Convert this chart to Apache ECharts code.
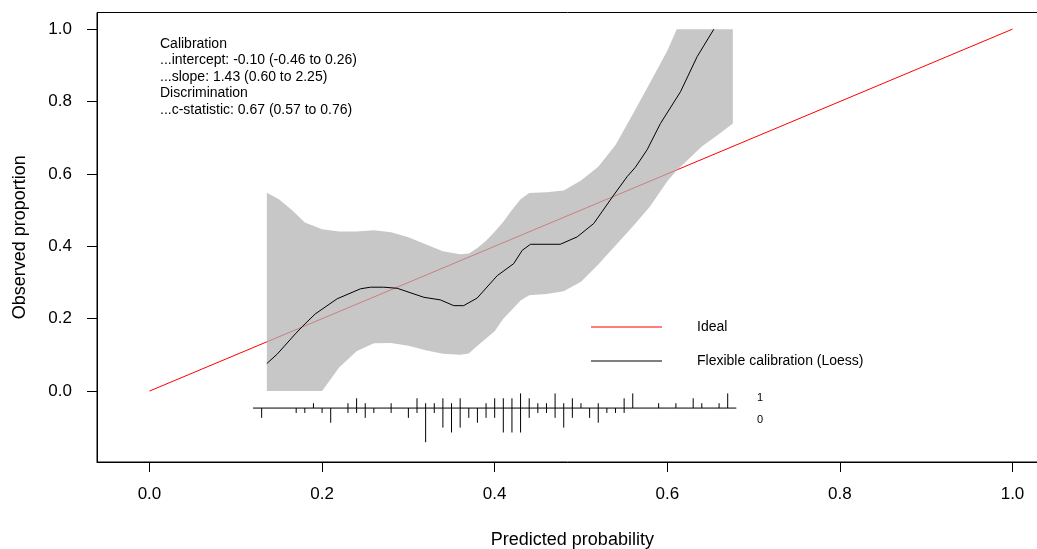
<!DOCTYPE html>
<html>
<head>
<meta charset="utf-8">
<script src="https://cdn.jsdelivr.net/npm/echarts@6/dist/echarts.min.js"></script>
<style>
html,body{margin:0;padding:0;background:#fff;}
#chart{width:1037px;height:549px;}
</style>
</head>
<body>
<div id="chart"></div>
<script>
// ---------- data ----------
const xTicks = [0, 0.2, 0.4, 0.6, 0.8, 1.0];
const yTicks = [0, 0.2, 0.4, 0.6, 0.8, 1.0];

const idealX = [0, 1];
const idealY = [0, 1];

const loessX = [0.136, 0.148, 0.169, 0.177, 0.192, 0.2175, 0.2445, 0.256, 0.2715, 0.287, 0.318, 0.337, 0.3526, 0.364, 0.3797, 0.403, 0.422, 0.432, 0.4415, 0.476, 0.4956, 0.5148, 0.538, 0.5535, 0.5631, 0.5767, 0.592, 0.6153, 0.6346, 0.654];
const loessY = [0.076, 0.102, 0.158, 0.178, 0.213, 0.255, 0.2825, 0.287, 0.287, 0.284, 0.259, 0.252, 0.236, 0.236, 0.257, 0.319, 0.352, 0.389, 0.4056, 0.4056, 0.426, 0.463, 0.5417, 0.5925, 0.6185, 0.667, 0.739, 0.827, 0.924, 1.0];

const bandX     = [0.136, 0.15, 0.165, 0.18, 0.20, 0.22, 0.24, 0.26, 0.28, 0.30, 0.32, 0.34, 0.36, 0.37, 0.38, 0.39, 0.40, 0.41, 0.42, 0.43, 0.44, 0.46, 0.48, 0.50, 0.52, 0.54, 0.56, 0.58, 0.60, 0.611, 0.62, 0.64, 0.66, 0.676];
const bandUpper = [0.548, 0.53, 0.50, 0.466, 0.447, 0.441, 0.441, 0.444, 0.439, 0.425, 0.406, 0.386, 0.378, 0.380, 0.395, 0.415, 0.44, 0.468, 0.50, 0.53, 0.547, 0.549, 0.554, 0.582, 0.62, 0.68, 0.765, 0.852, 0.94, 1.0, 1.0, 1.0, 1.0, 1.0];
const bandLower = [0.0, 0.0, 0.0, 0.0, 0.0, 0.066, 0.11, 0.132, 0.133, 0.125, 0.113, 0.103, 0.10, 0.104, 0.125, 0.145, 0.165, 0.20, 0.225, 0.25, 0.265, 0.268, 0.276, 0.302, 0.35, 0.402, 0.455, 0.51, 0.58, 0.61, 0.63, 0.676, 0.71, 0.739];

// rug: number of observations per bin, events (y=1) and non-events (y=0)
const rugX      = [0.13, 0.17, 0.18, 0.19, 0.20, 0.21, 0.23, 0.24, 0.25, 0.26, 0.28, 0.30, 0.31, 0.32, 0.33, 0.34, 0.35, 0.36, 0.37, 0.38, 0.39, 0.40, 0.41, 0.42, 0.43, 0.44, 0.45, 0.46, 0.47, 0.48, 0.49, 0.50, 0.51, 0.52, 0.53, 0.54, 0.55, 0.56, 0.59, 0.61, 0.63, 0.64, 0.66, 0.67];
const rugEvents = [0, 0, 0, 1, 0, 0, 1, 2, 1, 0, 1, 0, 2, 1, 1, 2, 1, 2, 0, 0, 1, 2, 2, 2, 3, 2, 1, 1, 3, 1, 2, 1, 0, 1, 0, 0, 2, 3, 1, 1, 2, 1, 1, 3];
const rugNonEvents = [2, 1, 1, 0, 1, 3, 1, 1, 2, 1, 1, 2, 1, 7, 1, 4, 5, 4, 2, 3, 2, 2, 5, 5, 5, 2, 1, 1, 2, 4, 2, 0, 2, 3, 1, 1, 1, 0, 0, 0, 0, 0, 0, 0];
const rugRange = [0.12, 0.68];

const statLines = [
  'Calibration',
  '...intercept: -0.10 (-0.46 to 0.26)',
  '...slope: 1.43 (0.60 to 2.25)',
  'Discrimination',
  '...c-statistic: 0.67 (0.57 to 0.76)'
];

// ---------- layout constants ----------
const FONT = '"Liberation Sans", Arial, sans-serif';
const RUG_BASE = -0.047;
const RUG_UNIT = 0.0135;

const chart = echarts.init(document.getElementById('chart'), null, {renderer: 'canvas'});

function rugSeries(counts, dir) {
  const data = [];
  rugX.forEach((x, i) => { if (counts[i] > 0) data.push([x, counts[i]]); });
  return {
    type: 'custom',
    silent: true,
    z: 4,
    data: data,
    renderItem: function (params, api) {
      const x = api.value(0), n = api.value(1);
      const p0 = api.coord([x, RUG_BASE]);
      const p1 = api.coord([x, RUG_BASE + dir * n * RUG_UNIT]);
      return {
        type: 'line',
        shape: {x1: p0[0], y1: p0[1], x2: p1[0], y2: p1[1]},
        style: {stroke: '#000', lineWidth: 1}
      };
    }
  };
}

const option = {
  animation: false,
  backgroundColor: '#fff',
  grid: {
    left: 97, top: 12.5, width: 950.7, height: 449.5,
    outerBoundsMode: 'none',
    containLabel: false,
    show: true, borderColor: '#000', borderWidth: 1, backgroundColor: 'transparent'
  },
  xAxis: {
    type: 'value',
    min: -0.0608, max: 1.0408,
    name: 'Predicted probability',
    nameLocation: 'middle',
    nameGap: 69,
    nameTextStyle: {fontFamily: FONT, fontSize: 18, color: '#000'},
    axisLine: {show: true, onZero: false, lineStyle: {color: '#000'}},
    splitLine: {show: false},
    axisTick: {show: true, inside: false, length: 10, customValues: xTicks, lineStyle: {color: '#000'}},
    axisLabel: {customValues: xTicks, margin: 24, fontFamily: FONT, fontSize: 17, color: '#000',
      formatter: v => v.toFixed(1)}
  },
  yAxis: {
    type: 'value',
    min: -0.196, max: 1.046,
    name: 'Observed proportion',
    nameLocation: 'middle',
    nameGap: 68,
    nameTextStyle: {fontFamily: FONT, fontSize: 18, color: '#000'},
    axisLine: {show: true, onZero: false, lineStyle: {color: '#000'}},
    splitLine: {show: false},
    axisTick: {show: true, inside: false, length: 10, customValues: yTicks, lineStyle: {color: '#000'}},
    axisLabel: {customValues: yTicks, margin: 25, fontFamily: FONT, fontSize: 17, color: '#000',
      formatter: v => v.toFixed(1)}
  },
  legend: {
    orient: 'vertical',
    left: 586, top: 314,
    itemWidth: 71, itemHeight: 1,
    itemGap: 18,
    icon: 'rect',
    selectedMode: false,
    data: ['Ideal', 'Flexible calibration (Loess)'],
    textStyle: {fontFamily: FONT, fontSize: 14, color: '#000', lineHeight: 16, padding: [0, 0, 0, 30]}
  },
  graphic: [
    {
      type: 'text', left: 160, top: 35.5, silent: true,
      style: {text: statLines.join('\n'), font: '14px ' + FONT, fill: '#000', lineHeight: 16.5}
    },
    {
      type: 'text', left: 757, top: 392, silent: true,
      style: {text: '1', font: '11px ' + FONT, fill: '#000'}
    },
    {
      type: 'text', left: 757, top: 414, silent: true,
      style: {text: '0', font: '11px ' + FONT, fill: '#000'}
    }
  ],
  series: [
    {
      name: 'Ideal',
      type: 'line',
      z: 1,
      symbol: 'none',
      silent: true,
      data: idealX.map((x, i) => [x, idealY[i]]),
      lineStyle: {color: '#ff0000', width: 1},
      itemStyle: {color: '#ff0000'}
    },
    {
      name: 'band',
      type: 'custom',
      z: 2,
      silent: true,
      clip: true,
      data: [[0.4, 0.4]],
      renderItem: function (params, api) {
        const pts = [];
        for (let i = 0; i < bandX.length; i++) pts.push(api.coord([bandX[i], bandUpper[i]]));
        for (let i = bandX.length - 1; i >= 0; i--) pts.push(api.coord([bandX[i], bandLower[i]]));
        return {type: 'polygon', shape: {points: pts}, style: {fill: 'rgba(178,178,178,0.72)', stroke: null}};
      }
    },
    {
      name: 'Flexible calibration (Loess)',
      type: 'line',
      z: 3,
      symbol: 'none',
      silent: true,
      data: loessX.map((x, i) => [x, loessY[i]]),
      lineStyle: {color: '#000', width: 1},
      itemStyle: {color: '#000'}
    },
    {
      name: 'rugBase',
      type: 'line',
      z: 4,
      symbol: 'none',
      silent: true,
      data: [[rugRange[0], RUG_BASE], [rugRange[1], RUG_BASE]],
      lineStyle: {color: '#000', width: 1}
    },
    rugSeries(rugEvents, 1),
    rugSeries(rugNonEvents, -1)
  ]
};
chart.setOption(option);
</script>
</body>
</html>
